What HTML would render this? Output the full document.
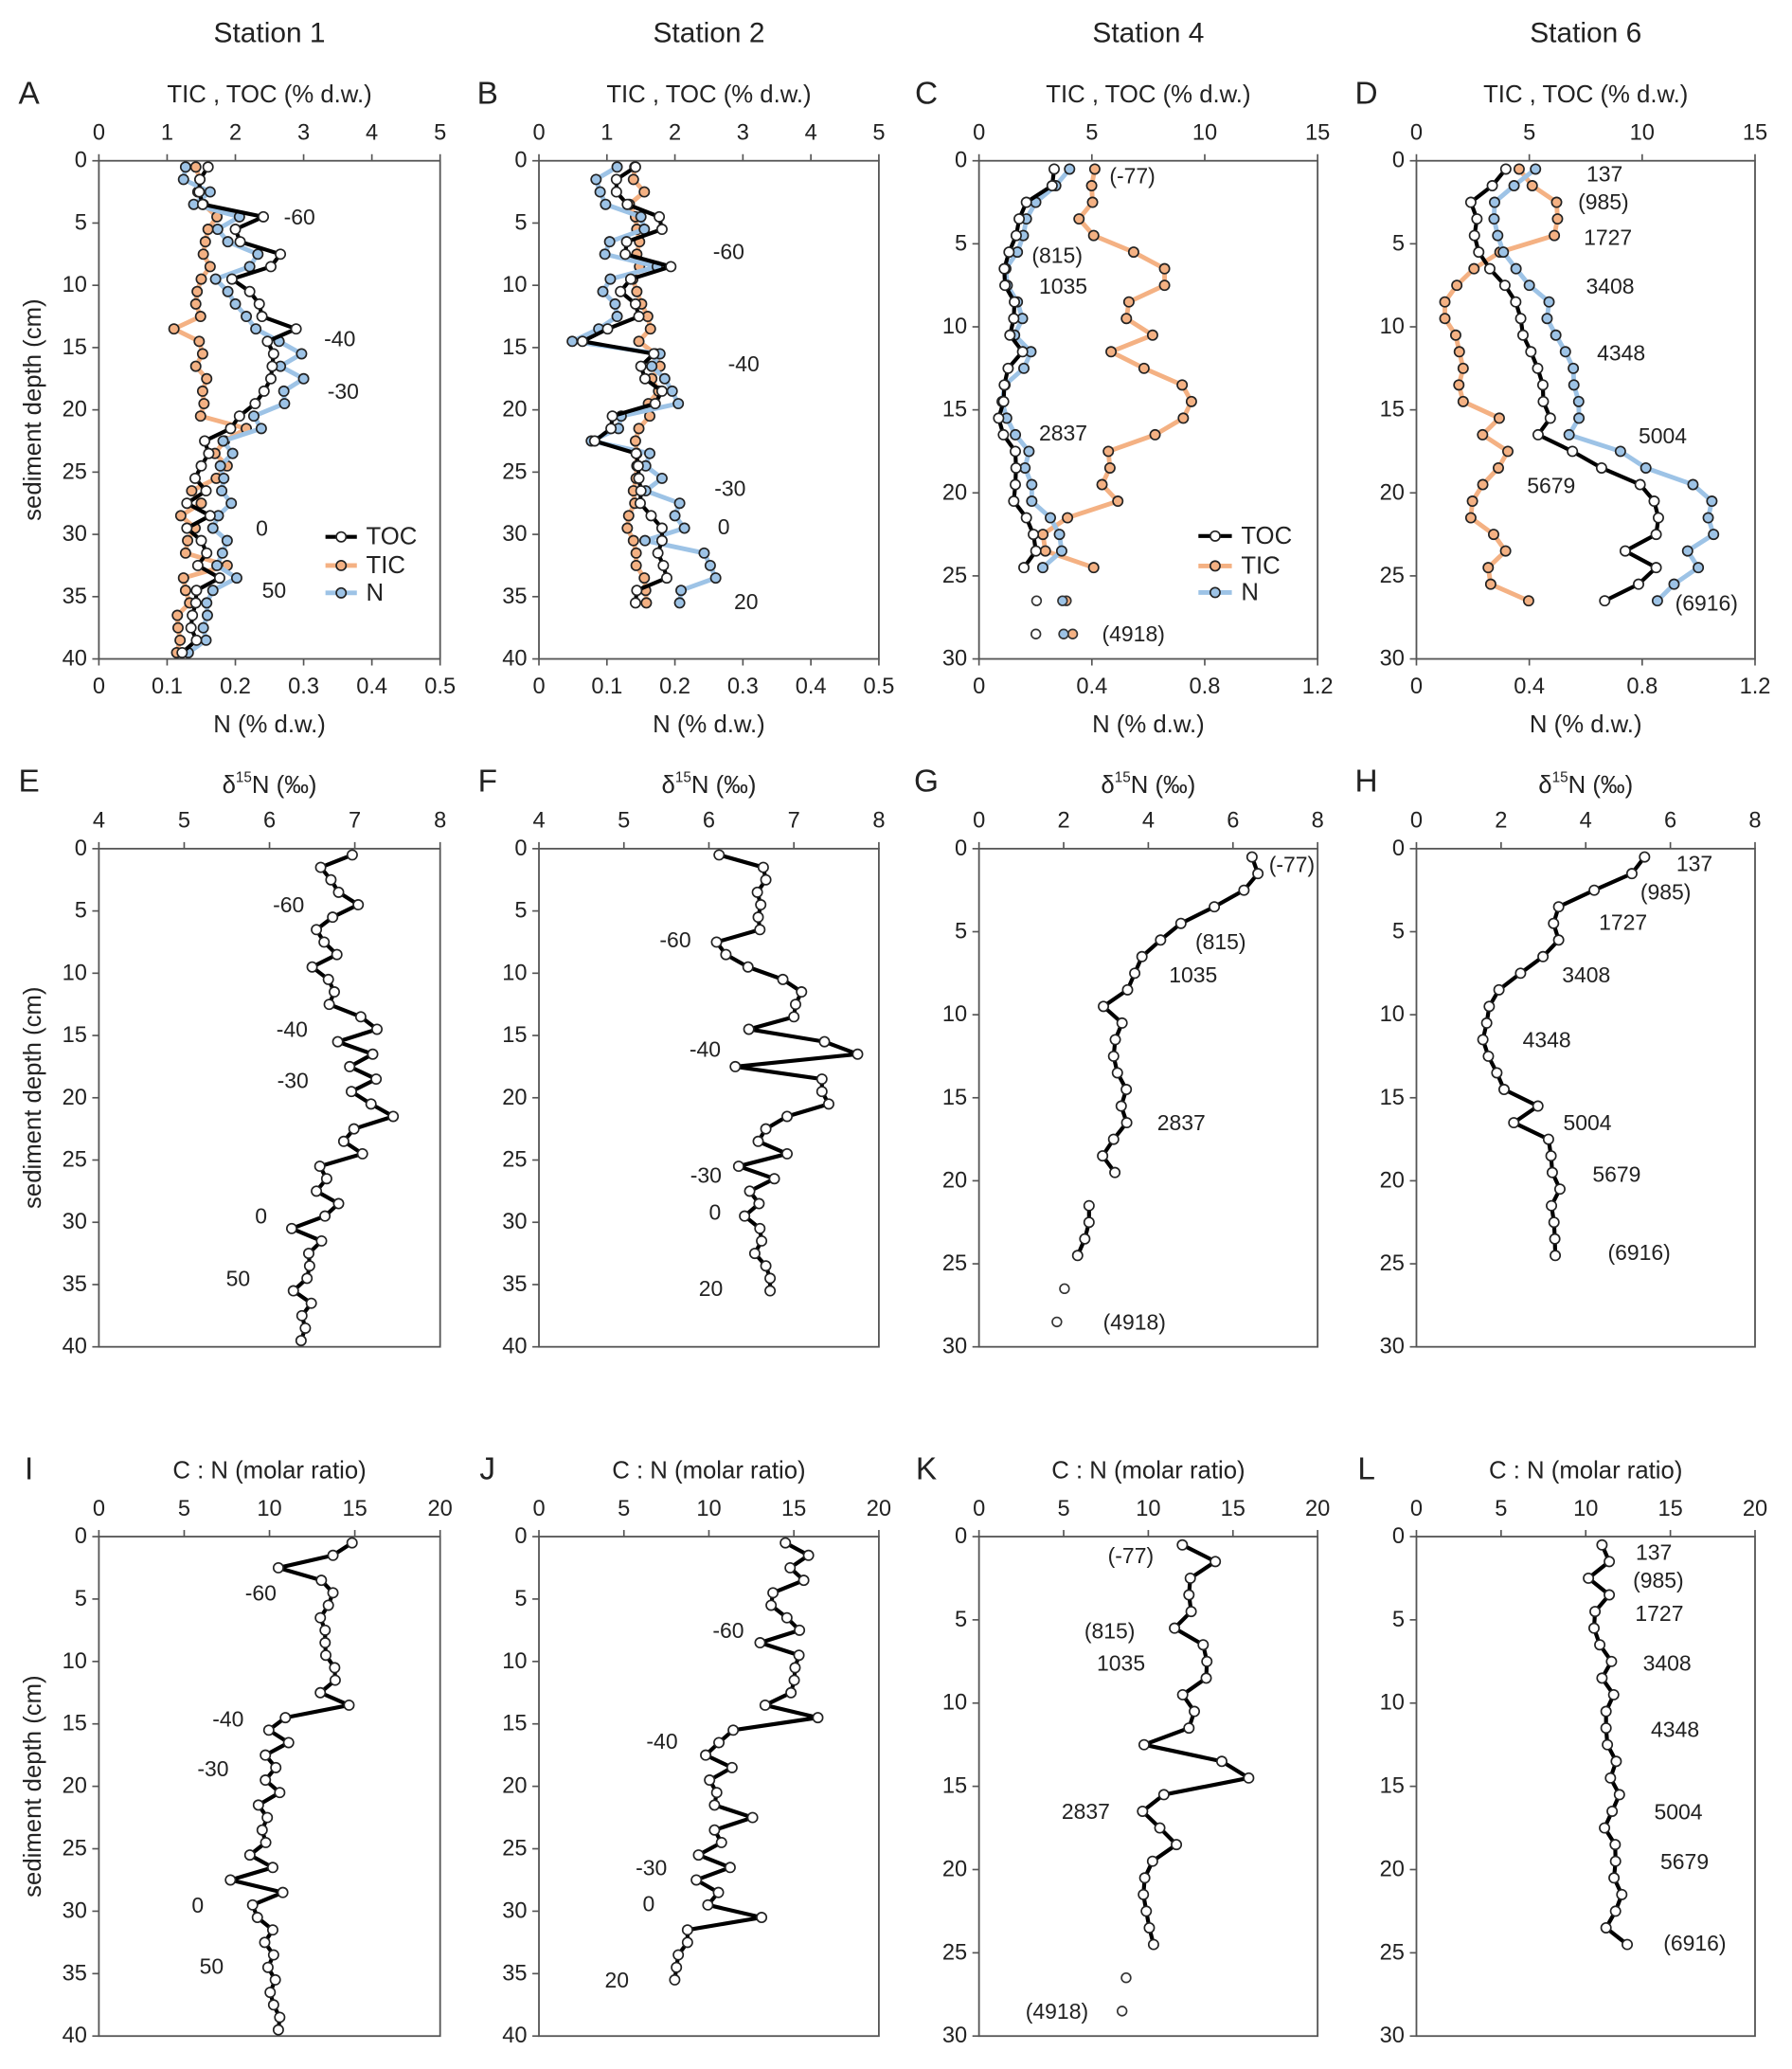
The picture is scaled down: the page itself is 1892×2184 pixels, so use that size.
<!DOCTYPE html>
<html><head><meta charset="utf-8"><title>Sediment profiles</title>
<style>
html,body{margin:0;padding:0;background:#fff;}
svg{display:block;font-family:"Liberation Sans",Arial,sans-serif;}
</style></head>
<body>
<svg id="fig" xmlns="http://www.w3.org/2000/svg" width="1892" height="2184" viewBox="0 0 1360 1570">
<rect x="0" y="0" width="1360" height="1570" fill="#fff"/>
</svg>
<script>
// ---------- DATA (depth in cm) ----------
const depthA = [0.5,1.5,2.5,3.5,4.5,5.5,6.5,7.5,8.5,9.5,10.5,11.5,12.5,13.5,14.5,15.5,16.5,17.5,18.5,19.5,20.5,21.5,22.5,23.5,24.5,25.5,26.5,27.5,28.5,29.5,30.5,31.5,32.5,33.5,34.5,35.5,36.5,37.5,38.5,39.5];
const tocA = [1.6,1.48,1.47,1.52,2.41,2.0,2.07,2.66,2.52,1.95,2.21,2.35,2.39,2.89,2.47,2.56,2.54,2.52,2.42,2.29,2.06,1.93,1.55,1.61,1.5,1.41,1.57,1.29,1.63,1.29,1.5,1.58,1.45,1.77,1.43,1.42,1.37,1.35,1.43,1.22];
const ticA = [1.42,1.48,1.45,1.53,1.73,1.6,1.56,1.53,1.63,1.5,1.44,1.42,1.49,1.1,1.47,1.52,1.42,1.58,1.52,1.54,1.49,2.16,1.84,1.7,1.88,1.72,1.36,1.5,1.2,1.41,1.3,1.27,1.88,1.24,1.27,1.33,1.15,1.16,1.19,1.14];
const nA = [0.127,0.124,0.163,0.139,0.206,0.174,0.189,0.233,0.221,0.171,0.189,0.2,0.216,0.23,0.264,0.297,0.266,0.3,0.271,0.272,0.227,0.238,0.182,0.196,0.178,0.183,0.18,0.194,0.175,0.167,0.188,0.181,0.173,0.202,0.167,0.158,0.159,0.153,0.157,0.131];

const depthB = [0.5,1.5,2.5,3.5,4.5,5.5,6.5,7.5,8.5,9.5,10.5,11.5,12.5,13.5,14.5,15.5,16.5,17.5,18.5,19.5,20.5,21.5,22.5,23.5,24.5,25.5,26.5,27.5,28.5,29.5,30.5,31.5,32.5,33.5,34.5,35.5];
const tocB = [1.42,1.14,1.14,1.3,1.77,1.81,1.29,1.27,1.94,1.35,1.2,1.42,1.47,1.01,0.64,1.69,1.5,1.56,1.81,1.71,1.08,1.06,0.82,1.43,1.46,1.47,1.5,1.49,1.65,1.81,1.81,1.75,1.83,1.88,1.44,1.42];
const ticB = [1.41,1.39,1.55,1.33,1.42,1.44,1.48,1.44,1.48,1.38,1.44,1.51,1.6,1.64,1.47,1.71,1.78,1.66,1.76,1.61,1.63,1.47,1.42,1.44,1.44,1.43,1.39,1.41,1.32,1.3,1.39,1.43,1.43,1.55,1.57,1.58];
const nB = [0.115,0.084,0.09,0.098,0.15,0.155,0.104,0.097,0.174,0.105,0.094,0.112,0.115,0.088,0.049,0.178,0.166,0.185,0.196,0.205,0.121,0.117,0.077,0.163,0.157,0.181,0.157,0.207,0.2,0.214,0.156,0.243,0.252,0.26,0.209,0.207];

const depthC = [0.5,1.5,2.5,3.5,4.5,5.5,6.5,7.5,8.5,9.5,10.5,11.5,12.5,13.5,14.5,15.5,16.5,17.5,18.5,19.5,20.5,21.5,22.5,23.5,24.5,26.5,28.5];
const tocC = [3.33,3.24,2.1,1.78,1.65,1.33,1.12,1.15,1.57,1.54,1.37,1.93,1.29,1.12,1.09,0.87,1.08,1.61,1.64,1.61,1.54,2.1,2.41,2.52,1.99,2.55,2.52];
const ticC = [5.13,4.99,5.03,4.43,5.08,6.85,8.22,8.22,6.64,6.53,7.69,5.85,7.31,9.0,9.41,9.05,7.8,5.73,5.8,5.45,6.15,3.92,2.83,2.94,5.08,3.87,4.15];
const nC = [0.321,0.272,0.201,0.168,0.157,0.136,0.095,0.1,0.136,0.154,0.126,0.184,0.159,0.092,0.082,0.098,0.129,0.177,0.163,0.187,0.187,0.253,0.285,0.293,0.226,0.296,0.3];

const depthD = [0.5,1.5,2.5,3.5,4.5,5.5,6.5,7.5,8.5,9.5,10.5,11.5,12.5,13.5,14.5,15.5,16.5,17.5,18.5,19.5,20.5,21.5,22.5,23.5,24.5,25.5,26.5];
const tocD = [3.96,3.36,2.41,2.68,2.57,2.76,3.25,3.92,4.4,4.62,4.72,5.07,5.37,5.6,5.62,5.93,5.39,6.91,8.2,9.91,10.53,10.72,10.62,9.25,10.62,9.84,8.34];
const ticD = [4.55,5.13,6.21,6.25,6.11,3.7,2.55,1.79,1.26,1.26,1.74,1.9,2.07,1.88,2.07,3.67,2.93,4.05,3.63,2.94,2.48,2.41,3.42,3.95,3.18,3.29,4.97];
const nD = [0.422,0.346,0.277,0.275,0.288,0.308,0.353,0.4,0.47,0.463,0.494,0.528,0.556,0.558,0.575,0.576,0.541,0.723,0.813,0.98,1.047,1.034,1.053,0.961,0.999,0.913,0.854];

const d15E = [6.97,6.6,6.72,6.81,7.04,6.74,6.55,6.64,6.79,6.5,6.69,6.76,6.7,7.07,7.26,6.8,7.21,6.94,7.25,6.96,7.19,7.45,6.99,6.87,7.09,6.59,6.67,6.55,6.81,6.65,6.26,6.61,6.46,6.47,6.44,6.28,6.49,6.38,6.42,6.37];
const d15F = [6.12,6.64,6.67,6.57,6.61,6.58,6.6,6.09,6.2,6.46,6.87,7.09,7.02,7.0,6.47,7.36,7.75,6.31,7.33,7.33,7.41,6.92,6.67,6.58,6.92,6.35,6.77,6.48,6.59,6.42,6.6,6.62,6.54,6.67,6.72,6.72];
const depthG = [0.5,1.5,2.5,3.5,4.5,5.5,6.5,7.5,8.5,9.5,10.5,11.5,12.5,13.5,14.5,15.5,16.5,17.5,18.5,19.5,21.5,22.5,23.5,24.5,26.5,28.5];
const d15G = [6.45,6.59,6.26,5.56,4.77,4.29,3.85,3.68,3.51,2.94,3.38,3.22,3.18,3.27,3.48,3.36,3.49,3.18,2.92,3.21,2.6,2.6,2.5,2.33,2.02,1.84];
const depthH = [0.5,1.5,2.5,3.5,4.5,5.5,6.5,7.5,8.5,9.5,10.5,11.5,12.5,13.5,14.5,15.5,16.5,17.5,18.5,19.5,20.5,21.5,22.5,23.5,24.5];
const d15H = [5.39,5.09,4.2,3.36,3.24,3.36,2.99,2.46,1.95,1.72,1.66,1.57,1.7,1.9,2.07,2.87,2.3,3.12,3.18,3.21,3.39,3.19,3.25,3.27,3.28];

const cnI = [14.84,13.72,10.52,13.04,13.72,13.45,12.98,13.26,13.26,13.3,13.82,13.85,12.98,14.66,10.93,9.96,11.12,9.76,10.37,9.76,10.6,9.35,9.87,9.57,9.78,8.85,10.19,7.71,10.78,9.01,9.29,10.19,9.72,10.24,9.91,10.34,10.04,10.24,10.6,10.52];
const cnJ = [14.5,15.86,14.78,15.58,13.77,13.66,14.59,15.33,13.01,15.3,15.07,15.02,14.83,13.31,16.41,11.43,10.59,9.81,11.36,10.04,10.46,10.33,12.57,10.33,10.74,9.39,11.25,9.26,10.56,9.94,13.1,8.74,8.74,8.2,8.09,7.99];
const cnK = [12.01,13.96,12.48,12.4,12.53,11.55,13.24,13.46,13.42,12.03,12.72,12.4,9.75,14.34,15.93,10.92,9.66,10.68,11.66,10.25,9.79,9.71,9.88,10.06,10.31,8.69,8.45];
const cnL = [10.96,11.39,10.16,11.39,10.55,10.49,10.83,11.52,10.96,11.65,11.2,11.2,11.28,11.8,11.46,11.99,11.56,11.11,11.74,11.76,11.67,12.13,11.76,11.2,12.45];

// Axis tick labels
const ticksTocAB = [0,1,2,3,4,5];
const ticksNAB = [0,0.1,0.2,0.3,0.4,0.5];
const ticksTocCD = [0,5,10,15];
const ticksNCD = [0,0.4,0.8,1.2];
const ticksD15EF = [4,5,6,7,8];
const ticksD15GH = [0,2,4,6,8];
const ticksCN = [0,5,10,15,20];
const ticksDepth40 = [0,5,10,15,20,25,30,35,40];
const ticksDepth30 = [0,5,10,15,20,25,30];

// Annotation labels: [text, x-value, depth]
const annA = [["-60",2.71,4.5],["-40",3.3,14.3],["-30",3.35,18.5],["0",2.3,29.5],["50",2.39,34.5]];
const annB = [["-60",2.56,7.3],["-40",2.78,16.3],["-30",2.58,26.3],["0",2.63,29.4],["20",2.87,35.4]];
const annC = [["(-77)",5.78,0.9],["(815)",2.34,5.7],["1035",2.66,7.56],["2837",2.66,16.4],["(4918)",5.45,28.5]];
const annD = [["137",7.53,0.8],["(985)",7.16,2.46],["1727",7.41,4.6],["3408",7.51,7.56],["4348",8.0,11.56],["5004",9.84,16.56],["5679",4.9,19.56],["(6916)",11.46,26.64]];
const annE = [["-60",6.04,4.5],["-40",6.08,14.5],["-30",6.09,18.6],["0",5.83,29.5],["50",5.49,34.5]];
const annF = [["-60",5.42,7.3],["-40",5.77,16.1],["-30",5.78,26.2],["0",6.0,29.2],["20",5.88,35.3]];
const annG = [["(-77)",6.85,0.94],["(815)",5.11,5.6],["1035",4.49,7.6],["2837",4.21,16.5],["(4918)",2.93,28.5]];
const annH = [["137",6.14,0.9],["(985)",5.29,2.6],["1727",4.31,4.44],["3408",3.44,7.6],["4348",2.51,11.5],["5004",3.47,16.5],["5679",4.16,19.6],["(6916)",4.52,24.3]];
const annI = [["-60",8.57,4.5],["-40",6.65,14.6],["-30",5.77,18.6],["0",5.44,29.5],["50",5.9,34.4]];
const annJ = [["-60",10.22,7.5],["-40",6.32,16.4],["-30",5.69,26.5],["0",6.1,29.4],["20",3.87,35.5]];
const annK = [["(-77)",7.61,1.13],["(815)",6.22,5.65],["1035",6.96,7.6],["2837",4.88,16.5],["(4918)",2.75,28.5]];
const annL = [["137",12.95,0.93],["(985)",12.79,2.62],["1727",12.92,4.6],["3408",13.38,7.6],["4348",13.85,11.57],["5004",14.04,16.54],["5679",14.41,19.52],["(6916)",14.59,24.4]];

// ---------- DRAWING ----------
const NS = "http://www.w3.org/2000/svg";
const svg = document.getElementById('fig');
const FONT = '"Liberation Sans", Arial, sans-serif';
function mk(tag, attrs, parent){
  const e = document.createElementNS(NS, tag);
  for (const k in attrs) e.setAttribute(k, attrs[k]);
  (parent || svg).appendChild(e);
  return e;
}
function txt(str, x, y, size, anchor, parent){
  const t = mk('text', {x:x, y:y, 'font-size':size, 'text-anchor':anchor||'middle', 'dominant-baseline':'central', fill:'#222', 'font-family':FONT}, parent);
  t.textContent = str;
  return t;
}

const COLS = [[75,334],[409,667],[743,1000],[1075,1332]];
const ROWS = [[122,500],[644,1022],[1166,1545]];
const COLOR_TIC = '#F4B183', COLOR_N = '#9DC3E6';
const MR = 3.7;

function makePanel(letter, col, row, xmin, xmax, xticks, dmax, dticks, title, isD15){
  const p = {x0:COLS[col][0], x1:COLS[col][1], y0:ROWS[row][0], y1:ROWS[row][1], xmin:xmin, xmax:xmax, dmax:dmax};
  p.sx = v => p.x0 + (v - p.xmin) / (p.xmax - p.xmin) * (p.x1 - p.x0);
  p.sy = d => p.y0 + d / p.dmax * (p.y1 - p.y0);
  const g = mk('g', {});
  
  
  p.g = g;
  const frame = mk('rect', {x:p.x0, y:p.y0, width:p.x1-p.x0, height:p.y1-p.y0, fill:'none', stroke:'#555', 'stroke-width':1.3}, g);
  
  
  const tg = mk('g', {}, g);
  
  
  xticks.forEach(v => {
    const x = p.sx(v);
    mk('line', {x1:x, x2:x, y1:p.y0, y2:p.y0-5, stroke:'#555', 'stroke-width':1.2}, tg);
    const t = txt(String(v), x, p.y0-21, 17, 'middle', tg);
    
    
  });
  const yg = mk('g', {}, g);
  
  
  dticks.forEach(d => {
    const y = p.sy(d);
    mk('line', {x1:p.x0, x2:p.x0-5, y1:y, y2:y, stroke:'#555', 'stroke-width':1.2}, yg);
    const t = txt(String(d), p.x0-9, y, 17, 'end', yg);
    
    
  });
  const cx = (p.x0 + p.x1) / 2;
  let tt;
  if (isD15) {
    tt = mk('text', {x:cx, y:p.y0-48, 'font-size':18.5, 'text-anchor':'middle', 'dominant-baseline':'central', fill:'#222', 'font-family':FONT}, g);
    const a = mk('tspan', {}, tt); a.textContent = 'δ';
    const b = mk('tspan', {'font-size':11, dy:-6}, tt); b.textContent = '15';
    const c = mk('tspan', {dy:6}, tt); c.textContent = 'N (‰)';
  } else {
    tt = txt(title, cx, p.y0-50, 18.5, 'middle', g);
  }
  
  
  const LX = [22, 370, 703, 1037];
  const lt = txt(letter, LX[col], p.y0-51, 24, 'middle', g);
  
  
  if (col === 0) {
    const yt = mk('text', {x:0, y:0, 'font-size':18.5, 'text-anchor':'middle', 'dominant-baseline':'central', fill:'#222', 'font-family':FONT, transform:'translate(25,' + ((p.y0+p.y1)/2) + ') rotate(-90)'}, g);
    yt.textContent = 'sediment depth (cm)';
    
    
  }
  return p;
}

function bottomAxis(p, nmax, nticks){
  const bg = mk('g', {}, p.g);
  
  
  nticks.forEach(v => {
    const x = p.x0 + v / nmax * (p.x1 - p.x0);
    mk('line', {x1:x, x2:x, y1:p.y1, y2:p.y1+5, stroke:'#555', 'stroke-width':1.2}, bg);
    const t = txt(String(v), x, p.y1+21, 17, 'middle', bg);
    
    
  });
  const tt = txt('N (% d.w.)', (p.x0+p.x1)/2, p.y1+50, 18.5, 'middle', bg);
  
  
}

function series(p, depths, vals, scale, color, mfill, lw, name){
  const g = mk('g', {}, p.g);
  
  
  let runs = [], cur = [];
  for (let i = 0; i < depths.length; i++) {
    if (cur.length && depths[i] - depths[i-1] > 1.2) { runs.push(cur); cur = []; }
    cur.push(i);
  }
  runs.push(cur);
  runs.forEach(r => {
    if (r.length < 2) return;
    const pts = r.map(i => scale(vals[i]).toFixed(2) + ',' + p.sy(depths[i]).toFixed(2)).join(' ');
    const pl = mk('polyline', {points:pts, fill:'none', stroke:color, 'stroke-width':lw, 'stroke-linejoin':'round'}, g);
    
    
  });
  runs.forEach(r => {
    r.forEach(i => {
      const single = r.length < 2;
      const c = mk('circle', {cx:scale(vals[i]), cy:p.sy(depths[i]), r: single ? 3.5 : MR, fill:mfill, stroke: single ? '#333' : '#222', 'stroke-width':1.2}, g);
      
      
    });
  });
}

function annotate(p, ann){
  ann.forEach(a => {
    const t = txt(a[0], p.sx(a[1]), p.sy(a[2]), 16.5, 'start', p.g);
    
    
  });
}

function legend(p, xv, dv){
  const lg = mk('g', {}, p.g);
  
  
  const items = [['TOC','#000','#fff',3],['TIC',COLOR_TIC,COLOR_TIC,3.5],['N',COLOR_N,COLOR_N,3.5]];
  items.forEach((it, k) => {
    const y = p.sy(dv[k]);
    const x1 = p.sx(xv[0]), x2 = p.sx(xv[1]);
    mk('line', {x1:x1, x2:x2, y1:y, y2:y, stroke:it[1], 'stroke-width':it[3]}, lg);
    mk('circle', {cx:(x1+x2)/2, cy:y, r:MR, fill:it[2], stroke:'#222', 'stroke-width':1.2}, lg);
    const t = txt(it[0], x2+7, y, 18.5, 'start', lg);
    
    
  });
}

[['Station 1',0],['Station 2',1],['Station 4',2],['Station 6',3]].forEach(s => {
  const t = txt(s[0], (COLS[s[1]][0]+COLS[s[1]][1])/2, 25, 21.5, 'middle');
  
  
});

function row1(letter, col, xmax, xt, nmax, nt, dmax, dt, depths, toc, tic, n, ann){
  const p = makePanel(letter, col, 0, 0, xmax, xt, dmax, dt, 'TIC , TOC (% d.w.)', false);
  bottomAxis(p, nmax, nt);
  const sTOC = v => p.sx(v);
  const sN = v => p.x0 + v / nmax * (p.x1 - p.x0);
  series(p, depths, tic, sTOC, COLOR_TIC, COLOR_TIC, 3.5, 'tic-series');
  series(p, depths, n, sN, COLOR_N, COLOR_N, 3.5, 'n-series');
  series(p, depths, toc, sTOC, '#000', '#fff', 3, 'toc-series');
  annotate(p, ann);
  return p;
}
const pA = row1('A', 0, 5, ticksTocAB, 0.5, ticksNAB, 40, ticksDepth40, depthA, tocA, ticA, nA, annA);
legend(pA, [3.32, 3.78], [30.2, 32.5, 34.7]);
row1('B', 1, 5, ticksTocAB, 0.5, ticksNAB, 40, ticksDepth40, depthB, tocB, ticB, nB, annB);
const pC = row1('C', 2, 15, ticksTocCD, 1.2, ticksNCD, 30, ticksDepth30, depthC, tocC, ticC, nC, annC);
legend(pC, [9.72, 11.2], [22.6, 24.4, 26.0]);
row1('D', 3, 15, ticksTocCD, 1.2, ticksNCD, 30, ticksDepth30, depthD, tocD, ticD, nD, annD);

function simple(letter, col, row, xmin, xmax, xt, dmax, dt, depths, vals, ann, isD15, title, name){
  const p = makePanel(letter, col, row, xmin, xmax, xt, dmax, dt, title, isD15);
  series(p, depths, vals, v => p.sx(v), '#000', '#fff', 3, name);
  annotate(p, ann);
}
simple('E', 0, 1, 4, 8, ticksD15EF, 40, ticksDepth40, depthA, d15E, annE, true, '', 'd15n-series');
simple('F', 1, 1, 4, 8, ticksD15EF, 40, ticksDepth40, depthB, d15F, annF, true, '', 'd15n-series');
simple('G', 2, 1, 0, 8, ticksD15GH, 30, ticksDepth30, depthG, d15G, annG, true, '', 'd15n-series');
simple('H', 3, 1, 0, 8, ticksD15GH, 30, ticksDepth30, depthH, d15H, annH, true, '', 'd15n-series');
simple('I', 0, 2, 0, 20, ticksCN, 40, ticksDepth40, depthA, cnI, annI, false, 'C : N (molar ratio)', 'cn-series');
simple('J', 1, 2, 0, 20, ticksCN, 40, ticksDepth40, depthB, cnJ, annJ, false, 'C : N (molar ratio)', 'cn-series');
simple('K', 2, 2, 0, 20, ticksCN, 30, ticksDepth30, depthC, cnK, annK, false, 'C : N (molar ratio)', 'cn-series');
simple('L', 3, 2, 0, 20, ticksCN, 30, ticksDepth30, depthH, cnL, annL, false, 'C : N (molar ratio)', 'cn-series');
</script>
</body></html>
